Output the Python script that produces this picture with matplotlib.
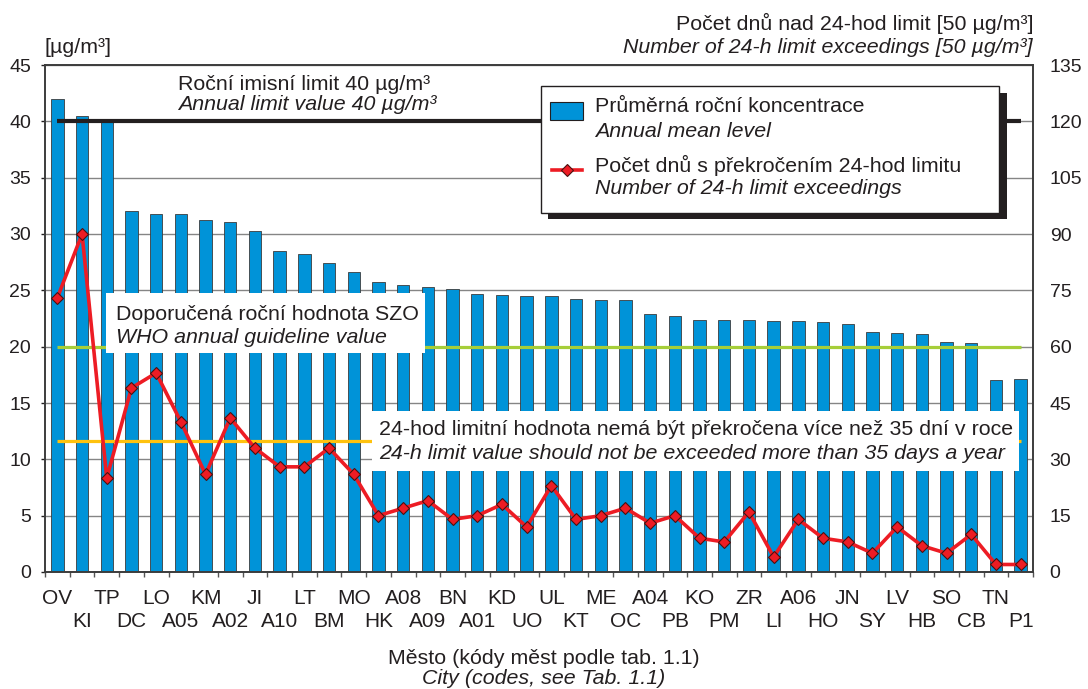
import matplotlib.pyplot as plt
from matplotlib.patches import Rectangle
from matplotlib.lines import Line2D

cities = ["OV", "KI", "TP", "DC", "LO", "A05", "KM", "A02", "JI", "A10",
          "LT", "BM", "MO", "HK", "A08", "A09", "BN", "A01", "KD", "UO",
          "UL", "KT", "ME", "OC", "A04", "PB", "KO", "PM", "ZR", "LI",
          "A06", "HO", "JN", "SY", "LV", "HB", "SO", "CB", "TN", "P1"]
annual_mean = [42.0, 40.5, 40.0, 32.0, 31.8, 31.8, 31.2, 31.1, 30.3, 28.5,
               28.2, 27.4, 26.6, 25.7, 25.5, 25.3, 25.1, 24.7, 24.6, 24.5,
               24.5, 24.2, 24.1, 24.1, 22.9, 22.7, 22.4, 22.4, 22.4, 22.3,
               22.3, 22.2, 22.0, 21.3, 21.2, 21.1, 20.4, 20.3, 17.0, 17.1]
exceed_days = [73, 90, 25, 49, 53, 40, 26, 41, 33, 28,
               28, 33, 26, 15, 17, 19, 14, 15, 18, 12,
               23, 14, 15, 17, 13, 15, 9, 8, 16, 4,
               14, 9, 8, 5, 12, 7, 5, 10, 2, 2]
annual_limit = 40
who_guideline = 20
days_allowed = 35

W, H = 1088, 689
BLUE = "#0093d8"
RED = "#ed1c24"
INK = "#231f20"
GRID = "#858585"
FS = 15.4

plt.rcParams["font.family"] = ["Liberation Sans", "DejaVu Sans"]
plt.rcParams["text.color"] = INK


def fx(px):
    return px / W


def fy(py):
    return 1 - py / H


fig = plt.figure(figsize=(W / 100, H / 100), dpi=100)
ax = fig.add_axes([fx(45), fy(572), fx(1033) - fx(45), fy(65) - fy(572)])
ax2 = ax.twinx()

n = len(cities)
x = list(range(n))

# bars - annual mean
ax.bar(x, annual_mean, width=0.5, color=BLUE, edgecolor="#3c3c3c",
       linewidth=0.6, zorder=2)
ax.hlines(annual_limit, 0, n - 1, color=INK, linewidth=3, zorder=3)
ax.hlines(who_guideline, 0, n - 1, color="#a6ce39", linewidth=2.3, zorder=3)
ax.set_xlim(-0.5, n - 0.5)
ax.set_ylim(0, 45)
ax.set_yticks(range(0, 46, 5))
ax.yaxis.grid(True, color=GRID, linewidth=1)
ax.set_axisbelow(True)

# city codes in two staggered rows
ax.set_xticks(x[0::2], cities[0::2])
ax.set_xticks([i - 0.5 for i in range(n + 1)], minor=True)
ax.tick_params(axis="x", which="major", length=0, pad=12, labelsize=15, colors=INK)
ax.tick_params(axis="x", which="minor", length=3.5, width=1, color="#555555")
ax.tick_params(axis="y", length=3, width=1, pad=7, labelsize=14, colors=INK)

sec = ax.secondary_xaxis("bottom")
sec.set_xticks(x[1::2], cities[1::2])
sec.tick_params(axis="x", length=0, pad=28.5, labelsize=15, colors=INK)
sec.spines["bottom"].set_visible(False)

# line - number of exceedings
ax2.hlines(days_allowed, 0, n - 1, color="#ffc20e", linewidth=2.3, zorder=2)
ax2.plot(x, exceed_days, color=RED, linewidth=2.6, marker="D", markersize=6,
         markerfacecolor=RED, markeredgecolor="#4a1010", markeredgewidth=0.8,
         zorder=4)
ax2.set_ylim(0, 135)
ax2.set_yticks(range(0, 136, 15))
ax2.tick_params(axis="y", length=0, pad=12, labelsize=14, colors=INK)

for a in (ax, ax2):
    for s in a.spines.values():
        s.set_color("#3c3c3c")
        s.set_linewidth(1.2)


def box(x0, y0, x1, y1, **kw):
    fig.add_artist(Rectangle((fx(x0), fy(y1)), fx(x1) - fx(x0), fy(y0) - fy(y1),
                             transform=fig.transFigure, **kw))


def label(px, py, s, italic=False, size=FS, **kw):
    fig.text(fx(px), fy(py), s, fontsize=size, va="baseline",
             style="italic" if italic else "normal", zorder=7, **kw)


# annotations
label(178, 90, "Roční imisní limit 40 µg/m³")
label(178, 110, "Annual limit value 40 µg/m³", italic=True)

box(106, 293, 425, 353, facecolor="white", edgecolor="none", zorder=5)
label(116, 320, "Doporučená roční hodnota SZO")
label(116, 343, "WHO annual guideline value", italic=True)

box(372, 411, 1019, 471, facecolor="white", edgecolor="none", zorder=5)
label(379, 435, "24-hod limitní hodnota nemá být překročena více než 35 dní v roce")
label(379, 459, "24-h limit value should not be exceeded more than 35 days a year",
      italic=True)

# legend
box(548, 93, 1007, 219, facecolor=INK, edgecolor="none", zorder=5)
box(541, 86, 999, 213, facecolor="white", edgecolor=INK, linewidth=1, zorder=6)
box(550, 102, 583, 120, facecolor=BLUE, edgecolor=INK, linewidth=0.8, zorder=7)
fig.add_artist(Line2D([fx(552), fx(582)], [fy(170), fy(170)], color=RED,
                      linewidth=2.6, transform=fig.transFigure, zorder=7))
fig.add_artist(Line2D([fx(567)], [fy(170)], marker="D", markersize=6,
                      markerfacecolor=RED, markeredgecolor="#4a1010",
                      markeredgewidth=0.8, transform=fig.transFigure, zorder=8))
label(595, 112, "Průměrná roční koncentrace")
label(595, 137, "Annual mean level", italic=True)
label(595, 172, "Počet dnů s překročením 24-hod limitu")
label(595, 194, "Number of 24-h limit exceedings", italic=True)

# axis titles
label(45, 53, "[µg/m³]")
label(1033, 30, "Počet dnů nad 24-hod limit [50 µg/m³]", ha="right")
label(1033, 53, "Number of 24-h limit exceedings [50 µg/m³]", italic=True, ha="right")
label(544, 664, "Město (kódy měst podle tab. 1.1)", ha="center")
label(544, 684, "City (codes, see Tab. 1.1)", italic=True, ha="center")

fig.savefig("out.png", dpi=100)
